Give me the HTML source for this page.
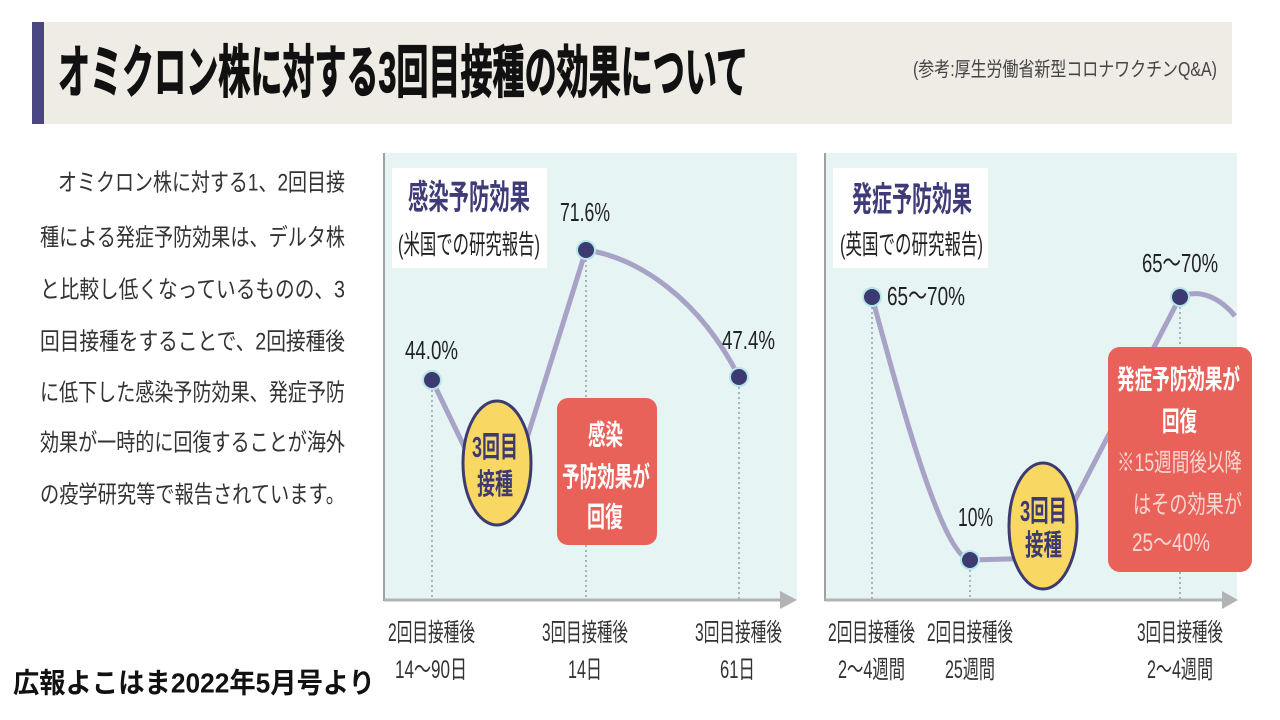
<!DOCTYPE html>
<html><head><meta charset="utf-8"><style>
html,body{margin:0;padding:0;background:#fff;width:1280px;height:720px;overflow:hidden}
svg{display:block}
text{font-family:"Liberation Sans","Noto Sans CJK JP",sans-serif;dominant-baseline:central}
</style></head><body>
<svg width="1280" height="720" viewBox="0 0 1280 720" xmlns="http://www.w3.org/2000/svg">
<rect x="0" y="0" width="1280" height="720" fill="#fff"/>
<!-- header band -->
<rect x="32" y="22" width="1200" height="102" fill="#efece6"/>
<rect x="32" y="22" width="12" height="102" fill="#4a4682"/>
<text x="58" y="73" font-size="57" font-weight="bold" fill="#111" stroke="#111" stroke-width="1.2" textLength="690" lengthAdjust="spacingAndGlyphs">オミクロン株に対する3回目接種の効果について</text>
<text x="913" y="70" font-size="20" fill="#444" textLength="304" lengthAdjust="spacingAndGlyphs">(参考:厚生労働省新型コロナワクチンQ&amp;A)</text>

<!-- paragraph -->
<g font-size="24" fill="#333">
<text x="58" y="183" textLength="287" lengthAdjust="spacingAndGlyphs">オミクロン株に対する1、2回目接</text>
<text x="40" y="238" textLength="305" lengthAdjust="spacingAndGlyphs">種による発症予防効果は、デルタ株</text>
<text x="40" y="290" textLength="305" lengthAdjust="spacingAndGlyphs">と比較し低くなっているものの、3</text>
<text x="40" y="342" textLength="305" lengthAdjust="spacingAndGlyphs">回目接種をすることで、2回接種後</text>
<text x="40" y="393" textLength="305" lengthAdjust="spacingAndGlyphs">に低下した感染予防効果、発症予防</text>
<text x="40" y="443" textLength="305" lengthAdjust="spacingAndGlyphs">効果が一時的に回復することが海外</text>
<text x="40" y="495" textLength="305" lengthAdjust="spacingAndGlyphs">の疫学研究等で報告されています。</text>
</g>

<text x="13" y="683" font-size="28" font-weight="bold" fill="#111" textLength="362" lengthAdjust="spacingAndGlyphs">広報よこはま2022年5月号より</text>

<!-- ============ LEFT CHART ============ -->
<rect x="384" y="153" width="413" height="447" fill="#e6f4f4"/>
<line x1="384" y1="153" x2="384" y2="601" stroke="#a0a0a0" stroke-width="2"/>
<rect x="392" y="168" width="155" height="100" fill="#fff"/>
<text x="408" y="198" font-size="34" font-weight="bold" fill="#3f3b78" textLength="122" lengthAdjust="spacingAndGlyphs">感染予防効果</text>
<text x="398" y="245" font-size="27" fill="#222" textLength="142" lengthAdjust="spacingAndGlyphs">(米国での研究報告)</text>

<g stroke="#8d8fa0" stroke-width="1.3" stroke-dasharray="2 3">
<line x1="432" y1="380" x2="432" y2="600"/>
<line x1="586" y1="250" x2="586" y2="600"/>
<line x1="739" y1="377" x2="739" y2="600"/>
</g>
<line x1="384" y1="600" x2="782" y2="600" stroke="#b3b3b3" stroke-width="3"/>
<polygon points="780,591 797,600 780,609" fill="#b3b3b3"/>

<path d="M432,380 L475,469 L517,470 L586,250 C640,258 700,300 739,377" fill="none" stroke="#a8a2c6" stroke-width="5" stroke-linejoin="round"/>

<g fill="#3d3a72" stroke="#b4e8e8" stroke-width="2">
<circle cx="432" cy="380" r="9"/>
<circle cx="586" cy="250" r="9"/>
<circle cx="739" cy="377" r="9"/>
</g>
<g font-size="26" fill="#222">
<text x="405" y="350" textLength="53" lengthAdjust="spacingAndGlyphs">44.0%</text>
<text x="560" y="212" textLength="50" lengthAdjust="spacingAndGlyphs">71.6%</text>
<text x="722" y="340" textLength="53" lengthAdjust="spacingAndGlyphs">47.4%</text>
</g>

<ellipse cx="497" cy="463" rx="34" ry="62" fill="#f8d862" stroke="#3d3a72" stroke-width="3"/>
<text x="472" y="448" font-size="29" font-weight="bold" fill="#3d3a72" textLength="46" lengthAdjust="spacingAndGlyphs">3回目</text>
<text x="477" y="485" font-size="29" font-weight="bold" fill="#3d3a72" textLength="36" lengthAdjust="spacingAndGlyphs">接種</text>

<rect x="557" y="398" width="100" height="147" rx="11" fill="#e8625a"/>
<g font-size="28" font-weight="bold" fill="#fff">
<text x="588" y="435" textLength="35" lengthAdjust="spacingAndGlyphs">感染</text>
<text x="562" y="477" textLength="88" lengthAdjust="spacingAndGlyphs">予防効果が</text>
<text x="587" y="517" textLength="36" lengthAdjust="spacingAndGlyphs">回復</text>
</g>

<g font-size="25" fill="#333">
<text x="388" y="633" textLength="87" lengthAdjust="spacingAndGlyphs">2回目接種後</text>
<text x="395" y="670" textLength="72" lengthAdjust="spacingAndGlyphs">14〜90日</text>
<text x="542" y="633" textLength="86" lengthAdjust="spacingAndGlyphs">3回目接種後</text>
<text x="568" y="670" textLength="34" lengthAdjust="spacingAndGlyphs">14日</text>
<text x="695" y="633" textLength="87" lengthAdjust="spacingAndGlyphs">3回目接種後</text>
<text x="720" y="670" textLength="35" lengthAdjust="spacingAndGlyphs">61日</text>
</g>

<!-- ============ RIGHT CHART ============ -->
<rect x="825" y="153" width="412" height="447" fill="#e6f4f4"/>
<line x1="825" y1="153" x2="825" y2="601" stroke="#a0a0a0" stroke-width="2"/>
<rect x="833" y="168" width="155" height="100" fill="#fff"/>
<text x="852" y="200" font-size="34" font-weight="bold" fill="#3f3b78" textLength="120" lengthAdjust="spacingAndGlyphs">発症予防効果</text>
<text x="840" y="245" font-size="27" fill="#222" textLength="143" lengthAdjust="spacingAndGlyphs">(英国での研究報告)</text>

<g stroke="#8d8fa0" stroke-width="1.3" stroke-dasharray="2 3">
<line x1="872" y1="297" x2="872" y2="600"/>
<line x1="970" y1="560" x2="970" y2="600"/>
<line x1="1180" y1="297" x2="1180" y2="600"/>
</g>
<line x1="825" y1="600" x2="1224" y2="600" stroke="#b3b3b3" stroke-width="3"/>
<polygon points="1222,591 1238,600 1222,609" fill="#b3b3b3"/>

<path d="M872,297 C895,380 940,555 970,560 L1045,558 L1180,297 C1200,288 1220,298 1235,316" fill="none" stroke="#a8a2c6" stroke-width="5" stroke-linejoin="round"/>

<g fill="#3d3a72" stroke="#b4e8e8" stroke-width="2">
<circle cx="872" cy="297" r="9"/>
<circle cx="970" cy="560" r="9"/>
<circle cx="1180" cy="297" r="9"/>
</g>
<g font-size="26" fill="#222">
<text x="887" y="296" textLength="78" lengthAdjust="spacingAndGlyphs">65〜70%</text>
<text x="958" y="517" textLength="35" lengthAdjust="spacingAndGlyphs">10%</text>
<text x="1142" y="263" textLength="76" lengthAdjust="spacingAndGlyphs">65〜70%</text>
</g>

<ellipse cx="1043" cy="526" rx="34" ry="63" fill="#f8d862" stroke="#3d3a72" stroke-width="3"/>
<text x="1020" y="512" font-size="29" font-weight="bold" fill="#3d3a72" textLength="47" lengthAdjust="spacingAndGlyphs">3回目</text>
<text x="1025" y="546" font-size="29" font-weight="bold" fill="#3d3a72" textLength="37" lengthAdjust="spacingAndGlyphs">接種</text>

<rect x="1108" y="347" width="144" height="225" rx="12" fill="#e8625a"/>
<g font-size="27" font-weight="bold" fill="#fff">
<text x="1117" y="380" textLength="123" lengthAdjust="spacingAndGlyphs">発症予防効果が</text>
<text x="1162" y="422" textLength="35" lengthAdjust="spacingAndGlyphs">回復</text>
</g>
<g font-size="25" fill="#fad6d2">
<text x="1117" y="463" textLength="125" lengthAdjust="spacingAndGlyphs">※15週間後以降</text>
<text x="1133" y="505" textLength="109" lengthAdjust="spacingAndGlyphs">はその効果が</text>
<text x="1132" y="543" textLength="78" lengthAdjust="spacingAndGlyphs">25〜40%</text>
</g>

<g font-size="25" fill="#333">
<text x="828" y="633" textLength="87" lengthAdjust="spacingAndGlyphs">2回目接種後</text>
<text x="838" y="670" textLength="67" lengthAdjust="spacingAndGlyphs">2〜4週間</text>
<text x="927" y="633" textLength="86" lengthAdjust="spacingAndGlyphs">2回目接種後</text>
<text x="945" y="670" textLength="50" lengthAdjust="spacingAndGlyphs">25週間</text>
<text x="1137" y="633" textLength="86" lengthAdjust="spacingAndGlyphs">3回目接種後</text>
<text x="1147" y="670" textLength="66" lengthAdjust="spacingAndGlyphs">2〜4週間</text>
</g>
</svg>
</body></html>
